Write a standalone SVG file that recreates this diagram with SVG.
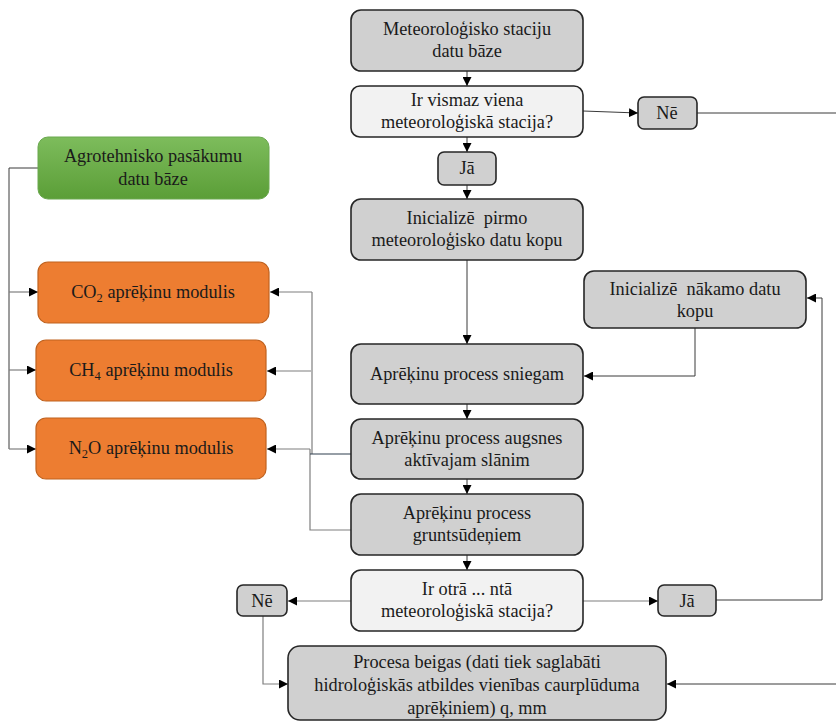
<svg xmlns="http://www.w3.org/2000/svg" width="836" height="721" viewBox="0 0 836 721">
  <style>
    text { font-family: "Liberation Serif", "Times New Roman", serif; font-size: 18.3px; fill: #1a1a1a; text-anchor: middle; }
    .gray { fill: #d0d0d0; stroke: #262626; stroke-width: 1.6; }
    .light { fill: #f2f2f2; stroke: #262626; stroke-width: 1.6; }
    .orange { fill: #ed7d31; stroke: #c0621f; stroke-width: 1.2; }
    .green { fill: url(#grn); stroke: #6aa84f; stroke-width: 1; }
    .ln { fill: none; stroke: #3a3a3a; stroke-width: 1; }
    .lg { fill: none; stroke: #7f7f7f; stroke-width: 1.2; }
    .ld { fill: none; stroke: #2f3f4f; stroke-width: 1.2; }
    .sub { font-size: 12.5px; }
  </style>
  <defs>
    <linearGradient id="grn" x1="0" y1="0" x2="0" y2="1">
      <stop offset="0" stop-color="#7dbc5c"/>
      <stop offset="1" stop-color="#5b9e37"/>
    </linearGradient>
    <marker id="ah" viewBox="0 0 10 10" refX="10" refY="5" markerWidth="9" markerHeight="9" markerUnits="userSpaceOnUse" orient="auto">
      <path d="M0,0 L10,5 L0,10 z" fill="#000"/>
    </marker>
  </defs>

  <!-- connectors -->
  <g id="connectors">
    <path class="ln" d="M467,71 V86" marker-end="url(#ah)"/>
    <path class="ln" d="M467,137 V152" marker-end="url(#ah)"/>
    <path class="ln" d="M467,185 V199" marker-end="url(#ah)"/>
    <path class="ln" d="M583,111 L638,113" marker-end="url(#ah)"/>
    <path class="ln" d="M697,113 H838 V684 H667" marker-end="url(#ah)"/>
    <path class="ln" d="M467,260 V344" marker-end="url(#ah)"/>
    <path class="ln" d="M695,328 V376 H584" marker-end="url(#ah)"/>
    <path class="ln" d="M716,600 H822 V298 H807" marker-end="url(#ah)"/>
    <path class="ln" d="M467,404 V419" marker-end="url(#ah)"/>
    <path class="ln" d="M467,479 V494" marker-end="url(#ah)"/>
    <path class="ln" d="M467,555 V570" marker-end="url(#ah)"/>
    <path class="lg" d="M351,601 H288" marker-end="url(#ah)"/>
    <path class="lg" d="M583,601 H658" marker-end="url(#ah)"/>
    <path class="lg" d="M263,615 V684 H288" marker-end="url(#ah)"/>
    <!-- agrotechnical data feed -->
    <path class="ln" d="M38,168 H9 V449"/>
    <path class="lg" d="M9,292 H38" marker-end="url(#ah)"/>
    <path class="lg" d="M9,370 H36" marker-end="url(#ah)"/>
    <path class="lg" d="M9,449 H36" marker-end="url(#ah)"/>
    <!-- process outputs to modules -->
    <path class="lg" d="M351,530 H310 V449"/>
    <path class="lg" d="M312,292 V454"/>
    <path class="ld" d="M351,454 H310"/>
    <path class="lg" d="M312,292 H270" marker-end="url(#ah)"/>
    <path class="lg" d="M311,371 H267" marker-end="url(#ah)"/>
    <path class="lg" d="M310,449 H267" marker-end="url(#ah)"/>
  </g>

  <g id="n-meteo-db">
    <rect class="gray" x="351" y="10" width="232" height="61" rx="10"/>
    <text x="467" y="35">Meteoroloģisko staciju</text>
    <text x="467" y="57">datu bāze</text>
  </g>
  <g id="n-any-station">
    <rect class="light" x="351" y="86" width="232" height="51" rx="9"/>
    <text x="467" y="106">Ir vismaz viena</text>
    <text x="467" y="128">meteoroloģiskā stacija?</text>
  </g>
  <g id="n-yes-1">
    <rect class="gray" x="438" y="152" width="58" height="33" rx="6"/>
    <text x="467" y="174">Jā</text>
  </g>
  <g id="n-no-1">
    <rect class="gray" x="638" y="97" width="59" height="32" rx="6"/>
    <text x="667" y="119">Nē</text>
  </g>
  <g id="n-init-first">
    <rect class="gray" x="351" y="199" width="232" height="61" rx="10"/>
    <text x="467" y="224" xml:space="preserve">Inicializē  pirmo</text>
    <text x="467" y="246">meteoroloģisko datu kopu</text>
  </g>
  <g id="n-init-next">
    <rect class="gray" x="584" y="271" width="222" height="57" rx="10"/>
    <text x="695" y="295" xml:space="preserve">Inicializē  nākamo datu</text>
    <text x="695" y="317">kopu</text>
  </g>
  <g id="n-snow">
    <rect class="gray" x="351" y="344" width="232" height="60" rx="10"/>
    <text x="467" y="380">Aprēķinu process sniegam</text>
  </g>
  <g id="n-soil">
    <rect class="gray" x="351" y="419" width="232" height="60" rx="10"/>
    <text x="467" y="444">Aprēķinu process augsnes</text>
    <text x="467" y="466">aktīvajam slānim</text>
  </g>
  <g id="n-ground">
    <rect class="gray" x="351" y="494" width="232" height="61" rx="10"/>
    <text x="467" y="519">Aprēķinu process</text>
    <text x="467" y="541">gruntsūdeņiem</text>
  </g>
  <g id="n-next-station">
    <rect class="light" x="351" y="570" width="232" height="61" rx="10"/>
    <text x="467" y="595">Ir otrā ... ntā</text>
    <text x="467" y="617">meteoroloģiskā stacija?</text>
  </g>
  <g id="n-no-2">
    <rect class="gray" x="237" y="585" width="50" height="31" rx="6"/>
    <text x="262" y="607">Nē</text>
  </g>
  <g id="n-yes-2">
    <rect class="gray" x="658" y="585" width="58" height="31" rx="6"/>
    <text x="687" y="607">Jā</text>
  </g>
  <g id="n-end">
    <rect class="gray" x="288" y="646" width="378" height="74" rx="12"/>
    <text x="477" y="668">Procesa beigas (dati tiek saglabāti</text>
    <text x="477" y="691">hidroloģiskās atbildes vienības caurplūduma</text>
    <text x="477" y="714">aprēķiniem) q, mm</text>
  </g>

  <g id="n-agro-db">
    <rect class="green" x="38" y="137" width="231" height="62" rx="10"/>
    <text x="153" y="162">Agrotehnisko pasākumu</text>
    <text x="153" y="185">datu bāze</text>
  </g>
  <g id="n-co2">
    <rect class="orange" x="38" y="262" width="231" height="61" rx="10"/>
    <text x="153" y="298">CO<tspan class="sub" dy="4">2</tspan><tspan dy="-4"> aprēķinu modulis</tspan></text>
  </g>
  <g id="n-ch4">
    <rect class="orange" x="36" y="340" width="230" height="61" rx="10"/>
    <text x="151" y="376">CH<tspan class="sub" dy="4">4</tspan><tspan dy="-4"> aprēķinu modulis</tspan></text>
  </g>
  <g id="n-n2o">
    <rect class="orange" x="36" y="418" width="230" height="61" rx="10"/>
    <text x="151" y="454">N<tspan class="sub" dy="4">2</tspan><tspan dy="-4">O aprēķinu modulis</tspan></text>
  </g>
</svg>
